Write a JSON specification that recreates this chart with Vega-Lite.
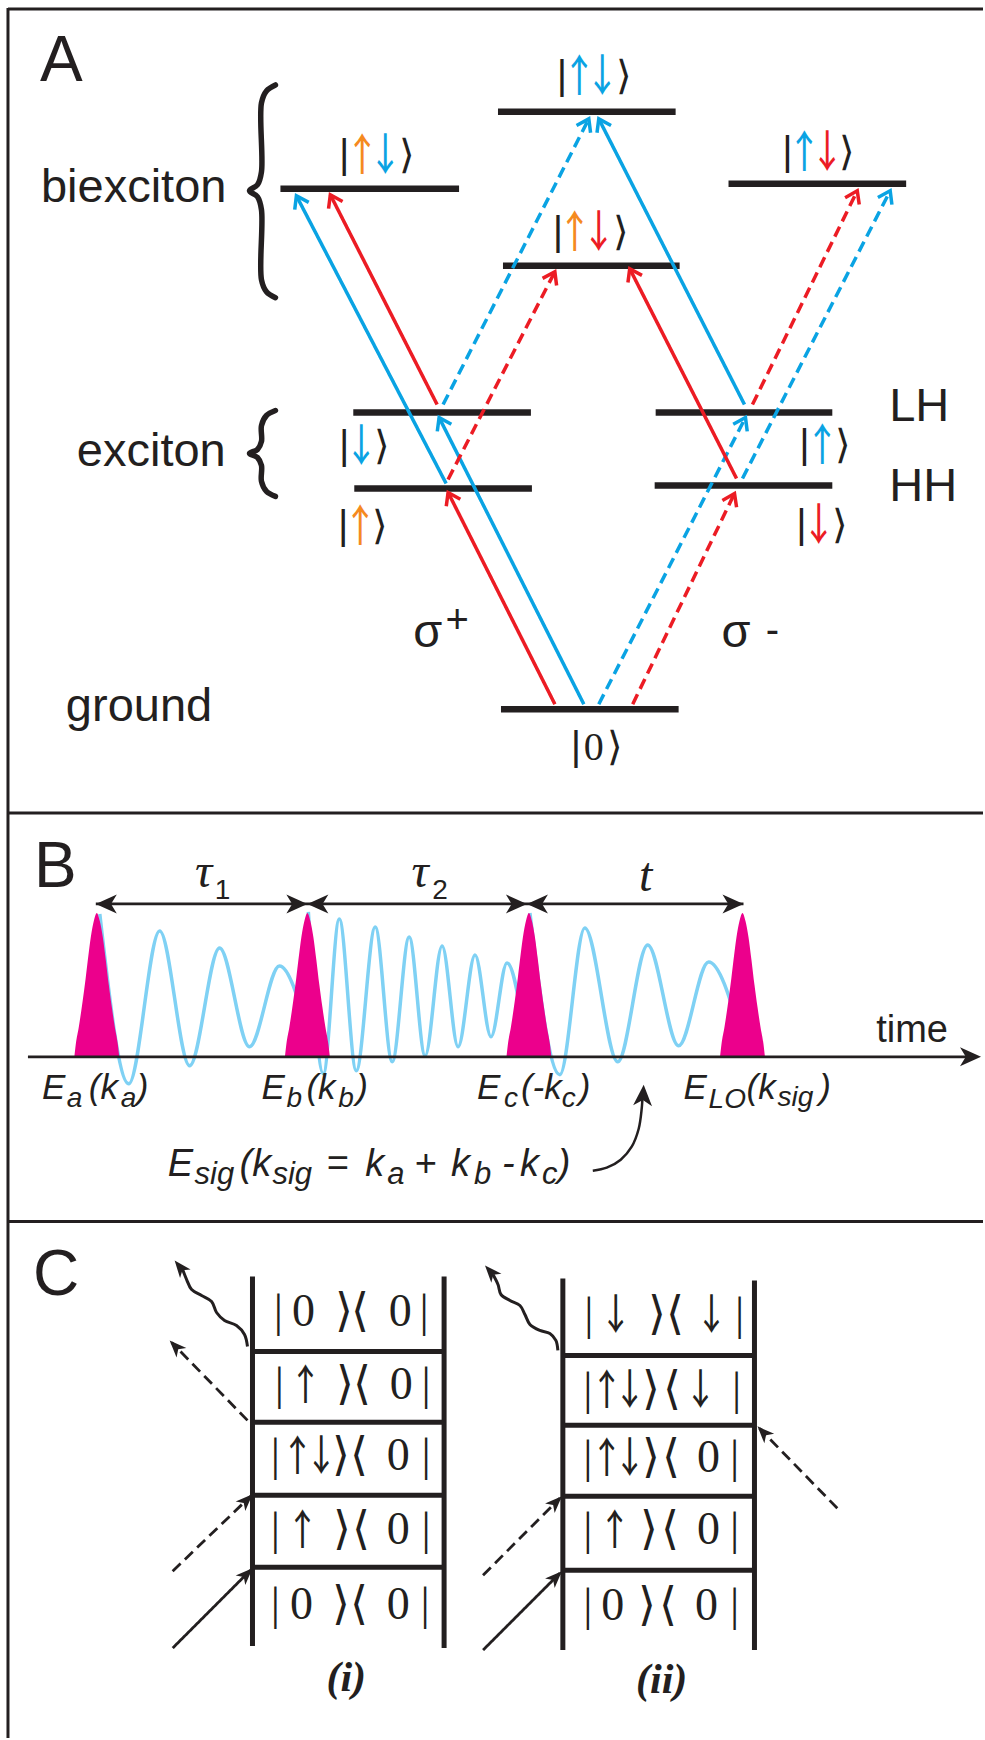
{
"$schema": "https://vega.github.io/schema/vega-lite/v6.json",
"width": 985, "height": 1740, "padding": 0,
"autosize": {"type": "fit", "contains": "padding"},
"background": "white",
"config": {"view": {"stroke": null}},
"datasets": {
"frame": [
{"x":8,"y":9,"x2":985,"y2":9},
{"x":8,"y":8,"x2":8,"y2":1740},
{"x":8,"y":814,"x2":985,"y2":814},
{"x":8,"y":1223,"x2":985,"y2":1223}
],
"levels": [
{"x":499,"x2":677,"y":112,"y2":112},
{"x":281,"x2":460,"y":189,"y2":189},
{"x":730,"x2":908,"y":184,"y2":184},
{"x":504,"x2":681,"y":266,"y2":266},
{"x":354,"x2":532,"y":413,"y2":413},
{"x":355,"x2":533,"y":489,"y2":489},
{"x":657,"x2":834,"y":413,"y2":413},
{"x":656,"x2":834,"y":486,"y2":486},
{"x":502,"x2":680,"y":710,"y2":710}
],
"trans": [
{"x":556,"y":705,"x2":449,"y2":493,"c":"r","d":"s"},
{"x":438,"y":405,"x2":331,"y2":195,"c":"r","d":"s"},
{"x":585,"y":705,"x2":440,"y2":418,"c":"b","d":"s"},
{"x":447,"y":484,"x2":297,"y2":196,"c":"b","d":"s"},
{"x":600,"y":705,"x2":747,"y2":418,"c":"b","d":"d"},
{"x":634,"y":705,"x2":736,"y2":494,"c":"r","d":"d"},
{"x":744,"y":479,"x2":892,"y2":191,"c":"b","d":"d"},
{"x":754,"y":405,"x2":859,"y2":191,"c":"r","d":"d"},
{"x":444,"y":405,"x2":590,"y2":119,"c":"b","d":"d"},
{"x":449,"y":480,"x2":556,"y2":272,"c":"r","d":"d"},
{"x":746,"y":405,"x2":600,"y2":119,"c":"b","d":"s"},
{"x":738,"y":479,"x2":631,"y2":269,"c":"r","d":"s"}
],
"chev": [
{"x":449,"y":493,"a":-26.8,"c":"r"},
{"x":331,"y":195,"a":-27,"c":"r"},
{"x":440,"y":418,"a":-26.8,"c":"b"},
{"x":297,"y":196,"a":-27.5,"c":"b"},
{"x":747,"y":418,"a":27.1,"c":"b"},
{"x":736,"y":494,"a":25.8,"c":"r"},
{"x":892,"y":191,"a":27.2,"c":"b"},
{"x":859,"y":191,"a":26.1,"c":"r"},
{"x":590,"y":119,"a":27,"c":"b"},
{"x":556,"y":272,"a":27.2,"c":"r"},
{"x":600,"y":119,"a":-27,"c":"b"},
{"x":631,"y":269,"a":-27,"c":"r"}
],
"wave": [
{"s":1,"x":100,"y":915},{"s":1,"x":129,"y":1085},{"s":1,"x":160,"y":932},{"s":1,"x":190,"y":1067},{"s":1,"x":220,"y":949},{"s":1,"x":250,"y":1048},{"s":1,"x":280,"y":967},{"s":1,"x":308,"y":1032},
{"s":2,"x":309,"y":913},{"s":2,"x":324,"y":1075},{"s":2,"x":340,"y":920},{"s":2,"x":357,"y":1072},{"s":2,"x":376,"y":928},{"s":2,"x":393,"y":1063},{"s":2,"x":410,"y":938},{"s":2,"x":426,"y":1057},{"s":2,"x":443,"y":947},{"s":2,"x":459,"y":1048},{"s":2,"x":476,"y":956},{"s":2,"x":492,"y":1038},{"s":2,"x":508,"y":964},{"s":2,"x":525,"y":1030},
{"s":3,"x":531,"y":914},{"s":3,"x":561,"y":1076},{"s":3,"x":586,"y":929},{"s":3,"x":619,"y":1063},{"s":3,"x":649,"y":946},{"s":3,"x":680,"y":1047},{"s":3,"x":710,"y":963},{"s":3,"x":742,"y":1035}
],
"pulses": [
{"p":1,"x":74.5,"y":1058},{"p":1,"x":76,"y":1045},{"p":1,"x":79,"y":1028},{"p":1,"x":82,"y":1008},{"p":1,"x":85,"y":986},{"p":1,"x":88,"y":961},{"p":1,"x":91,"y":938},{"p":1,"x":94,"y":922},{"p":1,"x":97,"y":914},{"p":1,"x":100,"y":922},{"p":1,"x":103,"y":938},{"p":1,"x":106,"y":961},{"p":1,"x":109,"y":986},{"p":1,"x":112,"y":1008},{"p":1,"x":115,"y":1028},{"p":1,"x":118,"y":1045},{"p":1,"x":119.5,"y":1058},
{"p":2,"x":285.5,"y":1058},{"p":2,"x":287,"y":1045},{"p":2,"x":290,"y":1028},{"p":2,"x":293,"y":1008},{"p":2,"x":296,"y":986},{"p":2,"x":299,"y":961},{"p":2,"x":302,"y":938},{"p":2,"x":305,"y":922},{"p":2,"x":308,"y":914},{"p":2,"x":311,"y":922},{"p":2,"x":314,"y":938},{"p":2,"x":317,"y":961},{"p":2,"x":320,"y":986},{"p":2,"x":323,"y":1008},{"p":2,"x":326,"y":1028},{"p":2,"x":329,"y":1045},{"p":2,"x":330.5,"y":1058},
{"p":3,"x":507.5,"y":1058},{"p":3,"x":509,"y":1045},{"p":3,"x":512,"y":1028},{"p":3,"x":515,"y":1008},{"p":3,"x":518,"y":986},{"p":3,"x":521,"y":961},{"p":3,"x":524,"y":938},{"p":3,"x":527,"y":922},{"p":3,"x":530,"y":914},{"p":3,"x":533,"y":922},{"p":3,"x":536,"y":938},{"p":3,"x":539,"y":961},{"p":3,"x":542,"y":986},{"p":3,"x":545,"y":1008},{"p":3,"x":548,"y":1028},{"p":3,"x":551,"y":1045},{"p":3,"x":552.5,"y":1058},
{"p":4,"x":721.5,"y":1058},{"p":4,"x":723,"y":1045},{"p":4,"x":726,"y":1028},{"p":4,"x":729,"y":1008},{"p":4,"x":732,"y":986},{"p":4,"x":735,"y":961},{"p":4,"x":738,"y":938},{"p":4,"x":741,"y":922},{"p":4,"x":744,"y":914},{"p":4,"x":747,"y":922},{"p":4,"x":750,"y":938},{"p":4,"x":753,"y":961},{"p":4,"x":756,"y":986},{"p":4,"x":759,"y":1008},{"p":4,"x":762,"y":1028},{"p":4,"x":765,"y":1045},{"p":4,"x":766.5,"y":1058}
],
"lines": [
{"x":28,"y":1058,"x2":970,"y2":1058,"d":"s"},
{"x":96,"y":905,"x2":745,"y2":905,"d":"s"},
{"x":173,"y":1650,"x2":251,"y2":1572,"d":"s"},
{"x":173,"y":1573,"x2":251,"y2":1498,"d":"d"},
{"x":248,"y":1422,"x2":172,"y2":1344,"d":"d"},
{"x":484,"y":1652,"x2":561,"y2":1575,"d":"s"},
{"x":484,"y":1577,"x2":561,"y2":1500,"d":"d"},
{"x":839,"y":1510,"x2":761,"y2":1430,"d":"d"}
],
"stealth": [
{"g":"B","x":983,"y":1058,"a":90},
{"g":"B","x":96,"y":905,"a":-90},
{"g":"B","x":308,"y":905,"a":90},
{"g":"B","x":308,"y":905,"a":-90},
{"g":"B","x":528,"y":905,"a":90},
{"g":"B","x":528,"y":905,"a":-90},
{"g":"B","x":745,"y":905,"a":90},
{"g":"B","x":645,"y":1086,"a":3},
{"g":"S","x":253,"y":1570,"a":45},
{"g":"S","x":253,"y":1496,"a":45},
{"g":"S","x":170,"y":1342,"a":-44},
{"g":"S","x":175,"y":1262,"a":-39},
{"g":"S","x":563,"y":1573,"a":45},
{"g":"S","x":563,"y":1498,"a":45},
{"g":"S","x":759,"y":1428,"a":-44},
{"g":"S","x":486,"y":1267,"a":-42}
],
"curves": [
{"k":"brace","g":"b1","i":0,"x":276,"y":85},{"k":"brace","g":"b1","i":1,"x":267,"y":91},{"k":"brace","g":"b1","i":2,"x":262,"y":103},{"k":"brace","g":"b1","i":3,"x":262,"y":172},{"k":"brace","g":"b1","i":4,"x":258,"y":185},{"k":"brace","g":"b1","i":5,"x":250,"y":191},{"k":"brace","g":"b1","i":6,"x":258,"y":197},{"k":"brace","g":"b1","i":7,"x":262,"y":210},{"k":"brace","g":"b1","i":8,"x":262,"y":280},{"k":"brace","g":"b1","i":9,"x":267,"y":292},{"k":"brace","g":"b1","i":10,"x":276,"y":298},
{"k":"brace","g":"b2","i":0,"x":276,"y":411},{"k":"brace","g":"b2","i":1,"x":267,"y":416},{"k":"brace","g":"b2","i":2,"x":262,"y":426},{"k":"brace","g":"b2","i":3,"x":262,"y":442},{"k":"brace","g":"b2","i":4,"x":258,"y":450},{"k":"brace","g":"b2","i":5,"x":250,"y":454},{"k":"brace","g":"b2","i":6,"x":258,"y":458},{"k":"brace","g":"b2","i":7,"x":262,"y":466},{"k":"brace","g":"b2","i":8,"x":262,"y":482},{"k":"brace","g":"b2","i":9,"x":267,"y":492},{"k":"brace","g":"b2","i":10,"x":276,"y":497},
{"k":"wavy","g":"w1","i":0,"x":248,"y":1348},{"k":"wavy","g":"w1","i":1,"x":245,"y":1336},{"k":"wavy","g":"w1","i":2,"x":237,"y":1327},{"k":"wavy","g":"w1","i":3,"x":225,"y":1322},{"k":"wavy","g":"w1","i":4,"x":217,"y":1314},{"k":"wavy","g":"w1","i":5,"x":212,"y":1303},{"k":"wavy","g":"w1","i":6,"x":202,"y":1297},{"k":"wavy","g":"w1","i":7,"x":192,"y":1291},{"k":"wavy","g":"w1","i":8,"x":187,"y":1281},{"k":"wavy","g":"w1","i":9,"x":183,"y":1271},
{"k":"wavy","g":"w2","i":0,"x":559,"y":1352},{"k":"wavy","g":"w2","i":1,"x":557,"y":1342},{"k":"wavy","g":"w2","i":2,"x":551,"y":1335},{"k":"wavy","g":"w2","i":3,"x":541,"y":1332},{"k":"wavy","g":"w2","i":4,"x":531,"y":1326},{"k":"wavy","g":"w2","i":5,"x":526,"y":1316},{"k":"wavy","g":"w2","i":6,"x":521,"y":1307},{"k":"wavy","g":"w2","i":7,"x":511,"y":1302},{"k":"wavy","g":"w2","i":8,"x":502,"y":1296},{"k":"wavy","g":"w2","i":9,"x":499,"y":1286},{"k":"wavy","g":"w2","i":10,"x":494,"y":1276},
{"k":"arc","g":"a1","i":0,"x":594,"y":1172},{"k":"arc","g":"a1","i":1,"x":608,"y":1169},{"k":"arc","g":"a1","i":2,"x":622,"y":1161},{"k":"arc","g":"a1","i":3,"x":633,"y":1148},{"k":"arc","g":"a1","i":4,"x":640,"y":1130},{"k":"arc","g":"a1","i":5,"x":643,"y":1110},{"k":"arc","g":"a1","i":6,"x":644,"y":1095}
],
"ladder": [
{"x":253,"y":1278,"x2":253,"y2":1648},{"x":445,"y":1278,"x2":445,"y2":1650},
{"x":253,"y":1353,"x2":445,"y2":1353},{"x":253,"y":1424,"x2":445,"y2":1424},{"x":253,"y":1497,"x2":445,"y2":1497},{"x":253,"y":1569,"x2":445,"y2":1569},
{"x":564,"y":1280,"x2":564,"y2":1652},{"x":756,"y":1282,"x2":756,"y2":1652},
{"x":564,"y":1357,"x2":756,"y2":1357},{"x":564,"y":1427,"x2":756,"y2":1427},{"x":564,"y":1498,"x2":756,"y2":1498},{"x":564,"y":1572,"x2":756,"y2":1572}
],
"texts": [
{"f":"P","t":"A","x":40,"y":81},
{"f":"P","t":"B","x":34,"y":888},
{"f":"P","t":"C","x":33,"y":1296},
{"f":"L","t":"biexciton","x":41,"y":202},
{"f":"L","t":"exciton","x":77,"y":467},
{"f":"L","t":"ground","x":66,"y":722},
{"f":"L","t":"LH","x":891,"y":421},
{"f":"L","t":"HH","x":891,"y":502},
{"f":"L","t":"σ","x":414,"y":648},
{"f":"L","t":"σ","x":723,"y":648},
{"f":"S","t":"+","x":458,"y":622},
{"f":"S","t":"-","x":774,"y":632},
{"f":"T","t":"time","x":878,"y":1043},
{"f":"K","t":"|","x":563,"y":77,"c":"k"},{"f":"KA","t":"￪","x":580.5,"y":77,"c":"b"},{"f":"KA","t":"￬","x":603.5,"y":77,"c":"b"},{"f":"K","t":"⟩","x":625,"y":77,"c":"k"},
{"f":"K","t":"|","x":345,"y":156,"c":"k"},{"f":"KA","t":"￪","x":363,"y":156,"c":"o"},{"f":"KA","t":"￬","x":386,"y":156,"c":"b"},{"f":"K","t":"⟩","x":408,"y":156,"c":"k"},
{"f":"K","t":"|","x":789,"y":153,"c":"k"},{"f":"KA","t":"￪","x":806,"y":153,"c":"b"},{"f":"KA","t":"￬","x":829,"y":153,"c":"r"},{"f":"K","t":"⟩","x":849,"y":153,"c":"k"},
{"f":"K","t":"|","x":559,"y":233,"c":"k"},{"f":"KA","t":"￪","x":576,"y":233,"c":"o"},{"f":"KA","t":"￬","x":600,"y":233,"c":"r"},{"f":"K","t":"⟩","x":622,"y":233,"c":"k"},
{"f":"K","t":"|","x":345,"y":448,"c":"k"},{"f":"KA","t":"￬","x":362,"y":448,"c":"b"},{"f":"K","t":"⟩","x":383,"y":448,"c":"k"},
{"f":"K","t":"|","x":344,"y":528,"c":"k"},{"f":"KA","t":"￪","x":361,"y":528,"c":"o"},{"f":"K","t":"⟩","x":381,"y":528,"c":"k"},
{"f":"K","t":"|","x":806,"y":447,"c":"k"},{"f":"KA","t":"￪","x":824,"y":447,"c":"b"},{"f":"K","t":"⟩","x":845,"y":447,"c":"k"},
{"f":"K","t":"|","x":803,"y":527,"c":"k"},{"f":"KA","t":"￬","x":820.5,"y":527,"c":"r"},{"f":"K","t":"⟩","x":842,"y":527,"c":"k"},
{"f":"K","t":"|","x":577,"y":749,"c":"k"},{"f":"K","t":"⟩","x":616,"y":749,"c":"k"},
{"f":"K0","t":"0","x":595,"y":749},
{"f":"I","t":"E","x":42,"y":1100},{"f":"I","t":"(k","x":89,"y":1100},{"f":"I","t":")","x":137,"y":1100},
{"f":"I","t":"E","x":262,"y":1100},{"f":"I","t":"(k","x":307,"y":1100},{"f":"I","t":")","x":357,"y":1100},
{"f":"I","t":"E","x":478,"y":1100},{"f":"I","t":"(-k","x":522,"y":1100},{"f":"I","t":")","x":580,"y":1100},
{"f":"I","t":"E","x":685,"y":1100},{"f":"I","t":"(k","x":748,"y":1100},{"f":"I","t":")","x":821,"y":1100},
{"f":"Is","t":"a","x":67,"y":1108},{"f":"Is","t":"a","x":121,"y":1108},
{"f":"Is","t":"b","x":287,"y":1108},{"f":"Is","t":"b","x":339,"y":1108},
{"f":"Is","t":"c","x":505,"y":1108},{"f":"Is","t":"c","x":563,"y":1108},
{"f":"Is","t":"LO","x":710,"y":1109},{"f":"Is","t":"sig","x":779,"y":1107},
{"f":"F","t":"E","x":168,"y":1177},{"f":"F","t":"(k","x":240,"y":1177},{"f":"F","t":"=","x":327,"y":1177},{"f":"F","t":"k","x":366,"y":1177},{"f":"F","t":"+","x":415,"y":1177},{"f":"F","t":"k","x":452,"y":1177},{"f":"F","t":"-","x":503,"y":1177},{"f":"F","t":"k","x":521,"y":1177},{"f":"F","t":")","x":559,"y":1177},
{"f":"Fs","t":"sig","x":195,"y":1185},{"f":"Fs","t":"sig","x":273,"y":1185},{"f":"Fs","t":"a","x":388,"y":1185},{"f":"Fs","t":"b","x":475,"y":1185},{"f":"Fs","t":"c","x":543,"y":1185},
{"f":"G","t":"τ","x":204,"y":888},{"f":"G","t":"τ","x":421,"y":888},{"f":"G","t":"t","x":647,"y":892},
{"f":"N","t":"1","x":223,"y":900},{"f":"N","t":"2","x":441,"y":900},
{"f":"C","t":"|","x":279,"y":1314},{"f":"C","t":"0","x":304,"y":1314},{"f":"C","t":"⟩","x":345,"y":1314},{"f":"C","t":"⟨","x":361,"y":1314},{"f":"C","t":"0","x":401,"y":1314},{"f":"C","t":"|","x":425,"y":1314},
{"f":"C","t":"|","x":280,"y":1387},{"f":"CA","t":"￪","x":306,"y":1387},{"f":"C","t":"⟩","x":346,"y":1387},{"f":"C","t":"⟨","x":363,"y":1387},{"f":"C","t":"0","x":402,"y":1387},{"f":"C","t":"|","x":427,"y":1387},
{"f":"C","t":"|","x":276,"y":1458},{"f":"CA","t":"￪","x":298,"y":1458},{"f":"CA","t":"￬","x":322,"y":1458},{"f":"C","t":"⟩","x":342,"y":1458},{"f":"C","t":"⟨","x":360,"y":1458},{"f":"C","t":"0","x":399,"y":1458},{"f":"C","t":"|","x":427,"y":1458},
{"f":"C","t":"|","x":276,"y":1532},{"f":"CA","t":"￪","x":303,"y":1532},{"f":"C","t":"⟩","x":343,"y":1532},{"f":"C","t":"⟨","x":362,"y":1532},{"f":"C","t":"0","x":399,"y":1532},{"f":"C","t":"|","x":427,"y":1532},
{"f":"C","t":"|","x":276,"y":1607},{"f":"C","t":"0","x":302,"y":1607},{"f":"C","t":"⟩","x":342,"y":1607},{"f":"C","t":"⟨","x":360,"y":1607},{"f":"C","t":"0","x":399,"y":1607},{"f":"C","t":"|","x":426,"y":1607},
{"f":"C","t":"|","x":590,"y":1317},{"f":"CA","t":"￬","x":617,"y":1317},{"f":"C","t":"⟩","x":658,"y":1317},{"f":"C","t":"⟨","x":676,"y":1317},{"f":"CA","t":"￬","x":713,"y":1317},{"f":"C","t":"|","x":741,"y":1317},
{"f":"C","t":"|","x":589,"y":1392},{"f":"CA","t":"￪","x":608,"y":1392},{"f":"CA","t":"￬","x":631,"y":1392},{"f":"C","t":"⟩","x":652,"y":1392},{"f":"C","t":"⟨","x":673,"y":1392},{"f":"CA","t":"￬","x":702,"y":1392},{"f":"C","t":"|","x":738,"y":1392},
{"f":"C","t":"|","x":589,"y":1460},{"f":"CA","t":"￪","x":608,"y":1460},{"f":"CA","t":"￬","x":631,"y":1460},{"f":"C","t":"⟩","x":652,"y":1460},{"f":"C","t":"⟨","x":672,"y":1460},{"f":"C","t":"0","x":710,"y":1460},{"f":"C","t":"|","x":736,"y":1460},
{"f":"C","t":"|","x":589,"y":1532},{"f":"CA","t":"￪","x":616,"y":1532},{"f":"C","t":"⟩","x":650,"y":1532},{"f":"C","t":"⟨","x":671,"y":1532},{"f":"C","t":"0","x":710,"y":1532},{"f":"C","t":"|","x":736,"y":1532},
{"f":"C","t":"|","x":589,"y":1608},{"f":"C","t":"0","x":614,"y":1608},{"f":"C","t":"⟩","x":648,"y":1608},{"f":"C","t":"⟨","x":669,"y":1608},{"f":"C","t":"0","x":708,"y":1608},{"f":"C","t":"|","x":736,"y":1608},
{"f":"R","t":"(i)","x":347,"y":1680},{"f":"R","t":"(ii)","x":663,"y":1682}
]
},
"encoding": {
"x": {"field":"x","type":"quantitative","scale":{"domain":[0,985],"nice":false,"zero":false},"axis":null},
"y": {"field":"y","type":"quantitative","scale":{"domain":[0,1740],"nice":false,"zero":false,"reverse":true},"axis":null}
},
"layer": [
{"data":{"name":"frame"},"mark":{"type":"rule","color":"#231f20","strokeWidth":3},"encoding":{"x2":{"field":"x2"},"y2":{"field":"y2"}}},
{"data":{"name":"levels"},"mark":{"type":"rule","color":"#231f20","strokeWidth":6.5},"encoding":{"x2":{"field":"x2"},"y2":{"field":"y2"}}},
{"data":{"name":"curves"},"transform":[{"filter":{"field":"k","equal":"brace"}}],"mark":{"type":"line","color":"#231f20","strokeWidth":5.5,"interpolate":"catmull-rom","strokeCap":"round"},"encoding":{"detail":{"field":"g"},"order":{"field":"i","type":"quantitative"}}},
{"data":{"name":"trans"},"mark":{"type":"rule","strokeWidth":3.5},"encoding":{"x2":{"field":"x2"},"y2":{"field":"y2"},
"color":{"field":"c","type":"nominal","scale":{"domain":["k","b","r","o"],"range":["#231f20","#0aa3e3","#ec1c24","#f58a1f"]},"legend":null},
"strokeDash":{"field":"d","type":"nominal","scale":{"domain":["s","d"],"range":[[1,0],[11,6]]},"legend":null}}},
{"data":{"name":"chev"},"mark":{"type":"point","shape":"M-0.75,1.1L0,0L0.75,1.1","filled":false,"strokeWidth":3.5,"size":441,"opacity":1,"strokeJoin":"miter"},"encoding":{"angle":{"field":"a","type":"quantitative","scale":null},
"color":{"field":"c","type":"nominal","scale":{"domain":["k","b","r","o"],"range":["#231f20","#0aa3e3","#ec1c24","#f58a1f"]},"legend":null}}},
{"data":{"name":"wave"},"mark":{"type":"line","color":"#7fd1f4","strokeWidth":3.5,"interpolate":"monotone"},"encoding":{"detail":{"field":"s"}}},
{"data":{"name":"pulses"},"mark":{"type":"area","color":"#ec008c","interpolate":"monotone","opacity":1},"encoding":{"y2":{"datum":1058},"detail":{"field":"p"}}},
{"data":{"name":"lines"},"mark":{"type":"rule","color":"#231f20","strokeWidth":2.8},"encoding":{"x2":{"field":"x2"},"y2":{"field":"y2"},
"strokeDash":{"field":"d","type":"nominal","scale":{"domain":["s","d"],"range":[[1,0],[11,6]]},"legend":null}}},
{"data":{"name":"curves"},"transform":[{"filter":{"field":"k","equal":"wavy"}}],"mark":{"type":"line","color":"#231f20","strokeWidth":3,"interpolate":"catmull-rom"},"encoding":{"detail":{"field":"g"},"order":{"field":"i","type":"quantitative"}}},
{"data":{"name":"curves"},"transform":[{"filter":{"field":"k","equal":"arc"}}],"mark":{"type":"line","color":"#231f20","strokeWidth":2.5,"interpolate":"catmull-rom"},"encoding":{"detail":{"field":"g"},"order":{"field":"i","type":"quantitative"}}},
{"data":{"name":"stealth"},"transform":[{"filter":{"field":"g","equal":"B"}}],"mark":{"type":"point","shape":"M0,0L0.9,2L0,1.45L-0.9,2Z","filled":true,"color":"#231f20","size":441,"opacity":1},"encoding":{"angle":{"field":"a","type":"quantitative","scale":null}}},
{"data":{"name":"stealth"},"transform":[{"filter":{"field":"g","equal":"S"}}],"mark":{"type":"point","shape":"M0,0L0.8,2L0,1.45L-0.8,2Z","filled":true,"color":"#231f20","size":289,"opacity":1},"encoding":{"angle":{"field":"a","type":"quantitative","scale":null}}},
{"data":{"name":"ladder"},"mark":{"type":"rule","color":"#231f20","strokeWidth":5},"encoding":{"x2":{"field":"x2"},"y2":{"field":"y2"}}},
{"data":{"name":"texts"},"transform":[{"filter":{"field":"f","equal":"P"}}],"mark":{"type":"text","font":"Liberation Sans","fontSize":64,"align":"left","baseline":"alphabetic","color":"#231f20"},"encoding":{"text":{"field":"t"}}},
{"data":{"name":"texts"},"transform":[{"filter":{"field":"f","equal":"L"}}],"mark":{"type":"text","font":"Liberation Sans","fontSize":47,"align":"left","baseline":"alphabetic","color":"#231f20"},"encoding":{"text":{"field":"t"}}},
{"data":{"name":"texts"},"transform":[{"filter":{"field":"f","equal":"S"}}],"mark":{"type":"text","font":"Liberation Sans","fontSize":40,"align":"center","baseline":"middle","color":"#231f20"},"encoding":{"text":{"field":"t"}}},
{"data":{"name":"texts"},"transform":[{"filter":{"field":"f","equal":"T"}}],"mark":{"type":"text","font":"Liberation Sans","fontSize":38,"align":"left","baseline":"alphabetic","color":"#231f20"},"encoding":{"text":{"field":"t"}}},
{"data":{"name":"texts"},"transform":[{"filter":{"field":"f","equal":"K"}}],"mark":{"type":"text","font":"Liberation Sans","fontSize":40,"align":"center","baseline":"middle"},"encoding":{"text":{"field":"t"},
"color":{"field":"c","type":"nominal","scale":{"domain":["k","b","r","o"],"range":["#231f20","#0aa3e3","#ec1c24","#f58a1f"]},"legend":null}}},
{"data":{"name":"texts"},"transform":[{"filter":{"field":"f","equal":"KA"}}],"mark":{"type":"text","font":"Noto Sans CJK JP","fontSize":44,"align":"center","baseline":"middle","dy":2},"encoding":{"text":{"field":"t"},
"color":{"field":"c","type":"nominal","scale":{"domain":["k","b","r","o"],"range":["#231f20","#0aa3e3","#ec1c24","#f58a1f"]},"legend":null}}},
{"data":{"name":"texts"},"transform":[{"filter":{"field":"f","equal":"K0"}}],"mark":{"type":"text","font":"Liberation Serif","fontSize":40,"align":"center","baseline":"middle","color":"#231f20"},"encoding":{"text":{"field":"t"}}},
{"data":{"name":"texts"},"transform":[{"filter":{"field":"f","equal":"I"}}],"mark":{"type":"text","font":"Liberation Sans","fontStyle":"italic","fontSize":35,"align":"left","baseline":"alphabetic","color":"#231f20"},"encoding":{"text":{"field":"t"}}},
{"data":{"name":"texts"},"transform":[{"filter":{"field":"f","equal":"Is"}}],"mark":{"type":"text","font":"Liberation Sans","fontStyle":"italic","fontSize":28,"align":"left","baseline":"alphabetic","color":"#231f20"},"encoding":{"text":{"field":"t"}}},
{"data":{"name":"texts"},"transform":[{"filter":{"field":"f","equal":"F"}}],"mark":{"type":"text","font":"Liberation Sans","fontStyle":"italic","fontSize":38,"align":"left","baseline":"alphabetic","color":"#231f20"},"encoding":{"text":{"field":"t"}}},
{"data":{"name":"texts"},"transform":[{"filter":{"field":"f","equal":"Fs"}}],"mark":{"type":"text","font":"Liberation Sans","fontStyle":"italic","fontSize":31,"align":"left","baseline":"alphabetic","color":"#231f20"},"encoding":{"text":{"field":"t"}}},
{"data":{"name":"texts"},"transform":[{"filter":{"field":"f","equal":"G"}}],"mark":{"type":"text","font":"Liberation Serif","fontStyle":"italic","fontSize":48,"align":"center","baseline":"alphabetic","color":"#231f20"},"encoding":{"text":{"field":"t"}}},
{"data":{"name":"texts"},"transform":[{"filter":{"field":"f","equal":"N"}}],"mark":{"type":"text","font":"Liberation Sans","fontSize":28,"align":"center","baseline":"alphabetic","color":"#231f20"},"encoding":{"text":{"field":"t"}}},
{"data":{"name":"texts"},"transform":[{"filter":{"field":"f","equal":"C"}}],"mark":{"type":"text","font":"Liberation Serif","fontSize":46,"align":"center","baseline":"middle","color":"#231f20"},"encoding":{"text":{"field":"t"}}},
{"data":{"name":"texts"},"transform":[{"filter":{"field":"f","equal":"CA"}}],"mark":{"type":"text","font":"Noto Sans CJK JP","fontSize":42,"align":"center","baseline":"middle","dy":2,"color":"#231f20"},"encoding":{"text":{"field":"t"}}},
{"data":{"name":"texts"},"transform":[{"filter":{"field":"f","equal":"R"}}],"mark":{"type":"text","font":"Liberation Serif","fontStyle":"italic","fontWeight":"bold","fontSize":42,"align":"center","baseline":"middle","color":"#231f20"},"encoding":{"text":{"field":"t"}}}
]
}
